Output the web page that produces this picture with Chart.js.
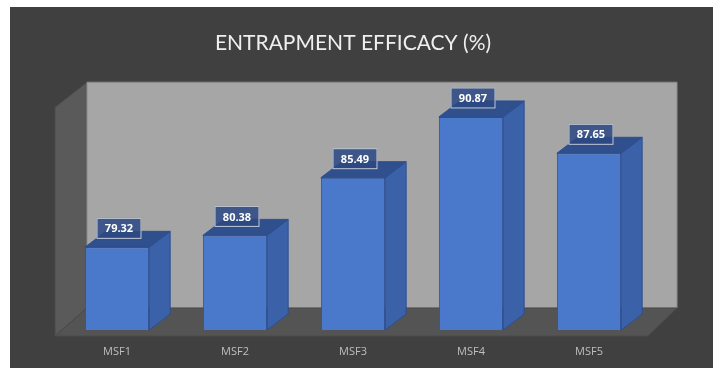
<!DOCTYPE html>
<html>
<head>
<meta charset="utf-8">
<script src="https://cdn.jsdelivr.net/npm/chart.js@4.4.1/dist/chart.umd.min.js"></script>
<style>
  html, body { margin: 0; padding: 0; background: #ffffff; }
  #caja {
    position: absolute; left: 10px; top: 7px;
    width: 703px; height: 361px;
    background: #404040;
  }
  #grafica { display: block; }
</style>
</head>
<body>
<div id="caja"><canvas id="grafica" width="703" height="361"></canvas></div>
<script>
// datos
const categorias = ["MSF1", "MSF2", "MSF3", "MSF4", "MSF5"];
const eficacia = [79.32, 80.38, 85.49, 90.87, 87.65];
const EJE_MIN = 72;
const EJE_MAX = 92;

// colores
const COLORES = {
  pared: "#a6a6a6",
  lateral: "#5a5a5a",
  piso: "#545454",
  frente: "#4a78cb",
  borde: "#2c4f94",
  costado: "#3b61a8",
  tapa: "#2f4f8d",
  texto: "#bfbfbf"
};

// profundidad del "3D"
const PARED = { dx: 29, dy: -22 };
const BARRA = { dx: 21, dy: -16 };

function poligono(ctx, pts, relleno, trazo) {
  ctx.beginPath();
  ctx.moveTo(pts[0][0], pts[0][1]);
  for (let i = 1; i < pts.length; i++) ctx.lineTo(pts[i][0], pts[i][1]);
  ctx.closePath();
  ctx.fillStyle = relleno;
  ctx.fill();
  if (trazo) {
    ctx.strokeStyle = trazo;
    ctx.lineWidth = 1;
    ctx.stroke();
  }
}

// paredes y piso
const fondo3D = {
  id: "fondo3D",
  beforeDatasetsDraw(chart) {
    const { ctx, chartArea: a } = chart;
    const L = a.left, R = a.right, T = a.top, B = a.bottom;
    ctx.save();
    // pared izquierda
    poligono(ctx, [[L - 3, T + 3], [L + PARED.dx, T + PARED.dy], [L + PARED.dx, B + PARED.dy], [L - 3, B + 6]], COLORES.lateral, "#4a4a4a");
    // pared del fondo
    poligono(ctx, [[L + PARED.dx, T + PARED.dy], [R + PARED.dx, T + PARED.dy], [R + PARED.dx, B + PARED.dy], [L + PARED.dx, B + PARED.dy]], COLORES.pared, "#8c8c8c");
    // piso
    poligono(ctx, [[L - 3, B + 6], [L + PARED.dx, B + PARED.dy], [R + PARED.dx, B + PARED.dy], [R, B + 6]], COLORES.piso, "#4a4a4a");
    ctx.restore();
  },
  afterDatasetsDraw(chart) {
    const { ctx, chartArea: a } = chart;
    const meta = chart.getDatasetMeta(0);
    ctx.save();
    meta.data.forEach((bar, i) => {
      const p = bar.getProps(["x", "y", "base", "width"], true);
      const x1 = p.x - p.width / 2, x2 = p.x + p.width / 2;
      const top = p.y, base = Math.min(p.base, a.bottom);
      // costado
      poligono(ctx, [[x2, top], [x2 + BARRA.dx, top + BARRA.dy], [x2 + BARRA.dx, base + BARRA.dy], [x2, base]], COLORES.costado, COLORES.borde);
      // tapa
      poligono(ctx, [[x1, top], [x1 + BARRA.dx, top + BARRA.dy], [x2 + BARRA.dx, top + BARRA.dy], [x2, top]], COLORES.tapa, COLORES.borde);

      // etiqueta
      const txt = eficacia[i].toFixed(2);
      const cx = p.x + 2, cy = top - 19;
      const w = 45, h = 21;
      ctx.fillStyle = "rgba(44, 72, 130, 0.85)";
      ctx.fillRect(cx - w / 2, cy - h / 2, w, h);
      ctx.strokeStyle = "rgba(235, 235, 235, 0.8)";
      ctx.lineWidth = 1;
      ctx.strokeRect(cx - w / 2 + 0.5, cy - h / 2 + 0.5, w - 1, h - 1);
      ctx.fillStyle = "#ffffff";
      ctx.font = "bold 11px 'Open Sans', sans-serif";
      ctx.textAlign = "center";
      ctx.textBaseline = "middle";
      ctx.fillText(txt, cx, cy + 1);
    });
    ctx.restore();
  }
};

new Chart(document.getElementById("grafica"), {
  type: "bar",
  data: {
    labels: categorias,
    datasets: [{
      data: eficacia,
      backgroundColor: COLORES.frente,
      borderColor: COLORES.borde,
      borderWidth: 1,
      categoryPercentage: 1,
      barPercentage: 0.545
    }]
  },
  options: {
    responsive: false,
    animation: false,
    layout: { padding: { left: 48, right: 65, top: 0, bottom: 0 } },
    plugins: {
      legend: { display: false },
      tooltip: { enabled: false },
      title: {
        display: true,
        text: "ENTRAPMENT EFFICACY (%)",
        color: "#efefef",
        font: { family: "Lato", size: 21, weight: "normal" },
        padding: { top: 24, bottom: 48 }
      }
    },
    scales: {
      y: {
        display: false,
        min: EJE_MIN,
        max: EJE_MAX
      },
      x: {
        grid: { display: false, drawTicks: false },
        border: { display: false },
        ticks: {
          color: COLORES.texto,
          padding: 15,
          font: { family: "Open Sans", size: 11 }
        },
        afterFit(s) { s.height = 38; }
      }
    }
  },
  plugins: [fondo3D]
});
</script>
</body>
</html>
